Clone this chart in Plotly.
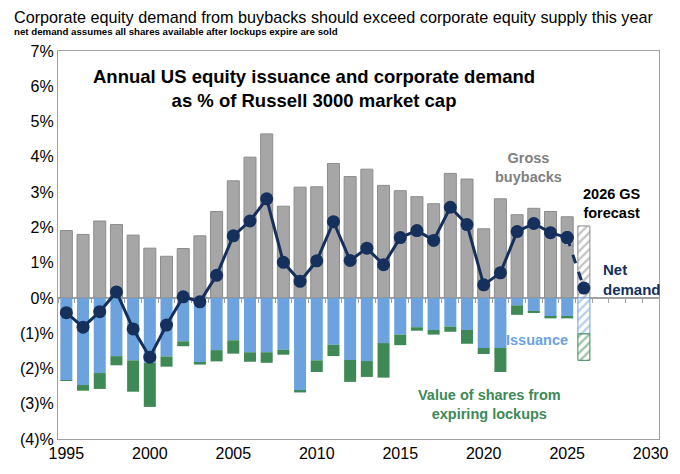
import plotly.graph_objects as go

years = list(range(1995, 2026))
forecast_year = [2026]

# % of Russell 3000 market cap
gross_buybacks = [1.91, 1.80, 2.18, 2.08, 1.78, 1.41, 1.18, 1.40, 1.76, 2.45,
                  3.32, 3.99, 4.65, 2.60, 3.14, 3.15, 3.81, 3.44, 3.65, 3.19,
                  3.04, 2.87, 2.67, 3.53, 3.37, 1.96, 2.81, 2.36, 2.54, 2.45,
                  2.30]
issuance = [-2.33, -2.47, -2.13, -1.65, -1.77, -1.84, -1.66, -1.23, -1.84, -1.48,
            -1.20, -1.54, -1.54, -1.47, -2.63, -1.77, -1.33, -1.76, -1.79, -1.28,
            -1.04, -0.83, -0.91, -0.81, -0.91, -1.42, -1.42, -0.21, -0.39, -0.54,
            -0.51]
lockups = [-0.02, -0.16, -0.45, -0.26, -0.89, -1.25, -0.29, -0.14, -0.05, -0.32,
           -0.38, -0.27, -0.30, -0.14, -0.05, -0.33, -0.32, -0.62, -0.45, -0.98,
           -0.30, -0.10, -0.13, -0.15, -0.39, -0.17, -0.68, -0.27, -0.03, -0.04,
           -0.07]
net_demand = [-0.42, -0.83, -0.39, 0.17, -0.88, -1.68, -0.77, 0.03, -0.11, 0.64,
              1.76, 2.18, 2.81, 1.01, 0.47, 1.05, 2.16, 1.06, 1.41, 0.94,
              1.71, 1.91, 1.63, 2.57, 2.08, 0.37, 0.71, 1.88, 2.11, 1.85,
              1.71]

fc_buybacks = [2.04]
fc_issuance = [-1.02]
fc_lockups = [-0.75]
fc_net = [0.28]

y_ticks = [-4, -3, -2, -1, 0, 1, 2, 3, 4, 5, 6, 7]
y_labels = ["(4)%", "(3)%", "(2)%", "(1)%", "0%", "1%", "2%", "3%", "4%", "5%", "6%", "7%"]
x_labels = [1995, 2000, 2005, 2010, 2015, 2020, 2025, 2030]

GREY = "#A6A6A6"
BLUE = "#6CA3DE"
GREEN = "#3E8956"
NAVY = "#15305C"
FONT = "Liberation Sans"

fig = go.Figure()

bw = 0.72
fig.add_bar(x=years, y=gross_buybacks, width=bw, marker_color=GREY,
            marker_line=dict(color="#8C8C8C", width=1))
fig.add_bar(x=years, y=issuance, width=bw, marker_color=BLUE, marker_line_width=0)
fig.add_bar(x=years, y=lockups, width=bw, marker_color=GREEN, marker_line_width=0)

# hatched forecast bars
for vals, col in [(fc_buybacks, "#8C8C8C"), (fc_issuance, BLUE), (fc_lockups, GREEN)]:
    fig.add_bar(x=forecast_year, y=vals, width=bw,
                marker=dict(color="white", line=dict(color=col, width=1),
                            pattern=dict(shape="/", fgcolor=col, bgcolor="white",
                                         size=6, solidity=0.4)))

# net demand sits on the zero-line axis (same range as the bars)
fig.add_scatter(x=years, y=net_demand, mode="lines+markers", xaxis="x2",
                line=dict(color=NAVY, width=3),
                marker=dict(color=NAVY, size=13))
fig.add_scatter(x=years[-1:] + forecast_year, y=net_demand[-1:] + fc_net,
                mode="lines+markers", xaxis="x2",
                line=dict(color=NAVY, width=3, dash="dash"),
                marker=dict(color=NAVY, size=13))

notes = [
    (2009.83, 5.95, "Annual US equity issuance and corporate demand<br>as % of Russell 3000 market cap", "black", 18.5, "center"),
    (2022.67, 3.70, "Gross<br>buybacks", "#808080", 14.5, "center"),
    (2027.67, 2.68, "2026 GS<br>forecast", "black", 14.5, "center"),
    (2027.05, 0.52, "Net<br>demand", NAVY, 15, "left"),
    (2023.2, -1.18, "Issuance", BLUE, 14.5, "center"),
    (2020.35, -3.03, "Value of shares from<br>expiring lockups", GREEN, 14.5, "center"),
]
for x, y, txt, col, size, anchor in notes:
    fig.add_annotation(x=x, y=y, text=f"<b>{txt}</b>", showarrow=False,
                       xanchor=anchor, yanchor="middle", align=anchor,
                       font=dict(family=FONT, size=size, color=col))

fig.add_annotation(x=-0.0765, y=1.087, xref="paper", yref="paper", showarrow=False,
                   xanchor="left", yanchor="middle",
                   text="Corporate equity demand from buybacks should exceed corporate equity supply this year",
                   font=dict(family=FONT, size=16.2, color="black"))
fig.add_annotation(x=-0.0765, y=1.049, xref="paper", yref="paper", showarrow=False,
                   xanchor="left", yanchor="middle",
                   text="<b>net demand assumes all shares available after lockups expire are sold</b>",
                   font=dict(family=FONT, size=9.7, color="black"))

fig.update_layout(
    width=672, height=466,
    margin=dict(l=47, r=13, t=43, b=31),
    paper_bgcolor="white", plot_bgcolor="white",
    barmode="relative", showlegend=False,
    font=dict(family=FONT, color="black"),
    xaxis=dict(range=[1994.5, 2030.5], tickvals=x_labels, ticks="",
               showgrid=False, zeroline=False, showline=True, mirror=True,
               linecolor="#A0A0A0", linewidth=1.2,
               tickfont=dict(family=FONT, size=16, color="black")),
    xaxis2=dict(overlaying="x", anchor="free", position=4 / 11,
                range=[1994.5, 2030.5], tickvals=[y + 0.5 for y in range(1994, 2031)],
                showticklabels=False, ticks="outside", ticklen=4, tickcolor="#A0A0A0",
                showgrid=False, zeroline=False, showline=True, layer="below traces",
                linecolor="#A0A0A0", linewidth=1.5),
    yaxis=dict(range=[-4, 7], tickvals=y_ticks, ticktext=y_labels, ticks="",
               showgrid=False, zeroline=False, showline=True, mirror=True,
               linecolor="#A0A0A0", linewidth=1.2,
               tickfont=dict(family=FONT, size=16, color="black")),
)

fig.write_html("out.html")
